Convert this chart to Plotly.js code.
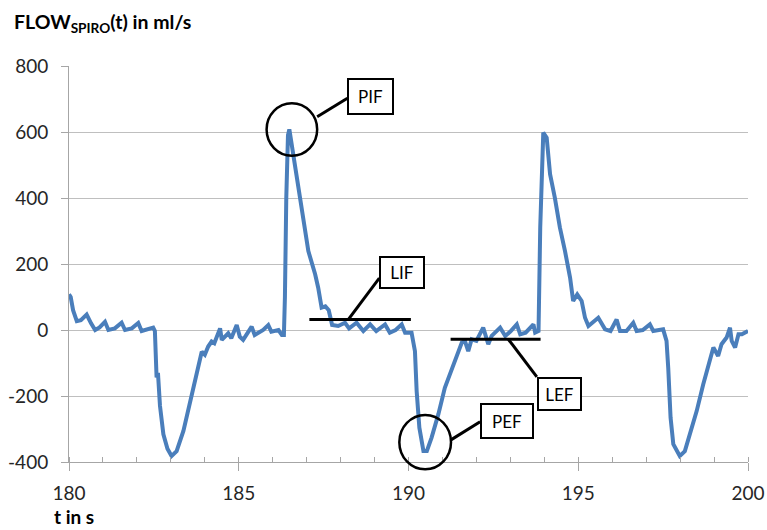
<!DOCTYPE html>
<html>
<head>
<meta charset="utf-8">
<script src="https://cdn.plot.ly/plotly-3.0.1.min.js"></script>
<style>html,body{margin:0;padding:0;background:#fff}#chart{width:767px;height:530px}</style>
</head>
<body>
<div id="chart"></div>
<script>
// time in s
const timeS = [
180.00,180.05,180.12,180.23,180.35,180.52,180.65,180.77,180.90,181.06,181.16,181.35,181.55,181.65,181.85,182.04,182.14,182.30,182.48,182.53,
182.56,182.58,182.62,182.68,182.78,182.90,183.02,183.17,183.37,183.56,183.76,183.86,183.91,184.00,184.10,184.20,184.28,184.45,184.50,184.69,
184.78,184.94,185.03,185.13,185.38,185.47,185.72,185.87,185.96,186.17,186.27,186.33,186.36,186.40,186.45,186.49,186.56,186.66,186.80,186.90,
187.05,187.25,187.34,187.44,187.55,187.65,187.75,187.93,188.13,188.25,188.47,188.67,188.87,189.05,189.31,189.45,189.62,189.80,189.90,190.09,
190.19,190.24,190.32,190.44,190.54,190.68,190.88,191.07,191.22,191.32,191.47,191.57,191.66,191.76,191.86,192.00,192.20,192.35,192.45,192.70,
192.85,193.00,193.19,193.29,193.45,193.68,193.73,193.83,193.88,193.97,194.07,194.17,194.31,194.46,194.61,194.76,194.85,194.97,195.10,195.20,
195.30,195.59,195.79,195.95,196.13,196.23,196.42,196.62,196.72,196.90,197.11,197.21,197.50,197.60,197.65,197.72,197.80,197.99,198.14,198.29,
198.49,198.68,198.83,198.98,199.12,199.22,199.37,199.47,199.52,199.62,199.72,199.82,200.00
];
// FLOW_SPIRO in ml/s
const flowMlS = [
108,100,60,27,30,47,20,0,8,25,0,5,22,0,5,21,-3,3,7,-3,
-60,-144,-130,-230,-316,-360,-382,-367,-306,-220,-124,-81,-66,-75,-50,-35,-40,5,-30,-10,
-25,15,-20,-30,10,-15,0,15,-5,0,-15,-15,100,400,590,608,563,492,411,330,
239,169,128,68,72,60,15,12,22,5,22,-3,17,-3,17,-8,0,17,-8,-8,
-64,-185,-296,-367,-367,-326,-255,-175,-134,-104,-64,-38,-33,-64,-28,-33,7,-43,-18,7,
-18,-5,17,-13,-8,17,-8,-3,310,598,583,472,401,310,239,158,88,108,88,37,
12,37,2,-3,32,-3,-3,22,-3,0,17,-3,2,-33,-114,-266,-346,-382,-367,-316,
-245,-165,-104,-53,-79,-43,-23,7,-33,-53,-13,-13,-3
];
const xTicks = [180,185,190,195,200];
const yTicks = [-400,-200,0,200,400,600,800];
const labels = ["PIF","LIF","LEF","PEF"];

const FONT = "Lato, 'Open Sans', sans-serif";
const black = {color:"#000", width:3};

const trace = {
  x: timeS, y: flowMlS, type: "scatter", mode: "lines",
  line: {color: "#4a7ebb", width: 4}, hoverinfo: "skip"
};

const boxFont = {family: FONT, size: 17, color: "#000"};

const layout = {
  width: 767, height: 530,
  margin: {l: 69, r: 19, t: 66, b: 68},
  paper_bgcolor: "#fff", plot_bgcolor: "#fff",
  showlegend: false,
  font: {family: FONT, size: 19, color: "#262626"},
  title: {
    text: "<b>FLOW<sub>SPIRO</sub>(t) in ml/s</b>",
    font: {family: FONT, size: 19.5, color: "#000"},
    xref: "container", x: 14/767, xanchor: "left",
    yref: "container", y: 1 - 22/530, yanchor: "middle"
  },
  xaxis: {
    range: [180, 200], tickvals: xTicks, ticktext: xTicks.map(String),
    showgrid: false, zeroline: false,
    showline: true, linecolor: "#a6a6a6", linewidth: 1,
    ticks: "outside", ticklen: 8, tickcolor: "#a6a6a6", tickwidth: 1,
    ticklabelstandoff: 6,
    minor: {dtick: 1, tick0: 180, ticks: "inside", ticklen: 5, tickcolor: "#a6a6a6", showgrid: false},
    tickfont: {family: FONT, size: 19, color: "#262626"}
  },
  yaxis: {
    range: [-400, 800], tickvals: yTicks, ticktext: yTicks.map(String),
    showgrid: true, gridcolor: "#bfbfbf", gridwidth: 1, zeroline: false,
    showline: true, linecolor: "#a6a6a6", linewidth: 1,
    ticks: "outside", ticklen: 7, tickcolor: "#a6a6a6",
    ticklabelstandoff: 9,
    tickfont: {family: FONT, size: 19, color: "#262626"}
  },
  shapes: [
    {type: "circle", xref: "x", yref: "y", x0: 185.82, x1: 187.31, y0: 528, y1: 687, line: {color: "#000", width: 2.5}, layer: "above"},
    {type: "line", xref: "x", yref: "y", x0: 187.31, y0: 646, x1: 188.20, y1: 702, line: black, layer: "above"},
    {type: "line", xref: "x", yref: "y", x0: 187.08, y0: 32, x1: 190.07, y1: 32, line: black, layer: "above"},
    {type: "line", xref: "x", yref: "y", x0: 188.23, y0: 32, x1: 189.14, y1: 157, line: black, layer: "above"},
    {type: "line", xref: "x", yref: "y", x0: 191.24, y0: -28, x1: 193.89, y1: -28, line: black, layer: "above"},
    {type: "line", xref: "x", yref: "y", x0: 192.94, y0: -28, x1: 193.78, y1: -142, line: black, layer: "above"},
    {type: "line", xref: "x", yref: "y", x0: 191.25, y0: -333, x1: 192.11, y1: -278, line: black, layer: "above"},
    {type: "circle", xref: "x domain", yref: "y domain", x0: 0.4865, x1: 0.5626, y0: -0.0184, y1: 0.1187, line: {color: "#000", width: 2.5}, layer: "above"}
  ],
  annotations: [
    {text: labels[0], xref: "x", yref: "y", x: 188.89, y: 707, showarrow: false, width: 43, height: 33, borderpad: 0, borderwidth: 2, bordercolor: "#000", bgcolor: "#fff", font: boxFont},
    {text: labels[1], xref: "x", yref: "y", x: 189.81, y: 173, showarrow: false, width: 42, height: 29, borderpad: 0, borderwidth: 2, bordercolor: "#000", bgcolor: "#fff", font: boxFont},
    {text: labels[2], xref: "x", yref: "y", x: 194.44, y: -193, showarrow: false, width: 41, height: 30, borderpad: 0, borderwidth: 2, bordercolor: "#000", bgcolor: "#fff", font: boxFont},
    {text: labels[3], xref: "x", yref: "y", x: 192.90, y: -277, showarrow: false, width: 50, height: 32, borderpad: 0, borderwidth: 2, bordercolor: "#000", bgcolor: "#fff", font: boxFont},
    {text: "<b>t in s</b>", xref: "paper", yref: "paper", x: (52-69)/679, xanchor: "left", y: (462-516)/396, yanchor: "middle", showarrow: false, font: {family: FONT, size: 19, color: "#000"}}
  ]
};

Plotly.newPlot("chart", [trace], layout, {displayModeBar: false, staticPlot: true});
</script>
</body>
</html>
